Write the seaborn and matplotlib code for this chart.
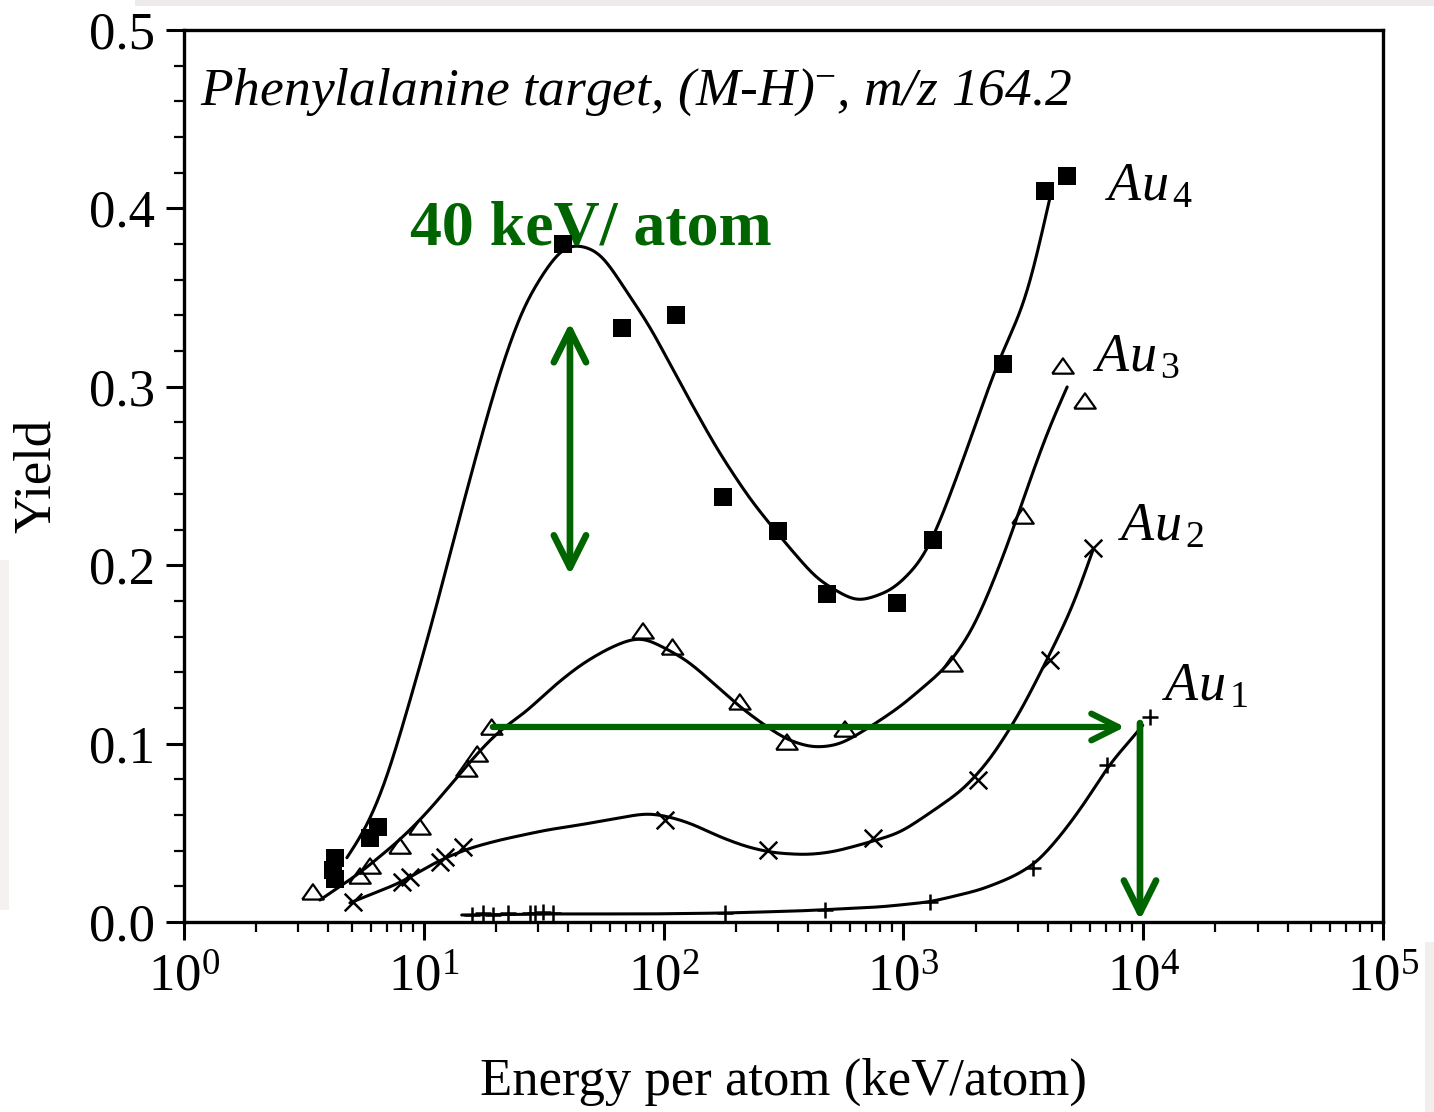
import numpy as np
import matplotlib
matplotlib.use("Agg")
import matplotlib.pyplot as plt
import seaborn as sns
from matplotlib.ticker import LogLocator, LogFormatterSciNotation, MultipleLocator, NullFormatter
from matplotlib.patches import Rectangle

# ---------------- measured yields (keV/atom, yield) ----------------
au4_energy = [4.26, 4.18, 4.26, 5.97, 6.44, 38.1, 67.1, 113, 177, 300, 480, 940, 1329, 2602, 3895, 4811]
au4_yield = [0.036, 0.029, 0.024, 0.047, 0.053, 0.380, 0.333, 0.340, 0.238, 0.219, 0.184, 0.179, 0.214, 0.313, 0.410, 0.418]

au3_energy = [3.45, 5.42, 5.97, 7.96, 9.64, 15.1, 16.7, 19.2, 82.1, 109, 208, 327, 571, 1595, 3153, 4630, 5720]
au3_yield = [0.0163, 0.0252, 0.0308, 0.0420, 0.0527, 0.0852, 0.0936, 0.1087, 0.1626, 0.1536, 0.1228, 0.1003,
             0.1076, 0.1441, 0.2270, 0.3111, 0.2915]

au2_energy = [5.07, 8.11, 8.76, 11.7, 12.3, 14.6, 101, 273, 747, 2047, 4087, 6176]
au2_yield = [0.0112, 0.0224, 0.0252, 0.0336, 0.0364, 0.0420, 0.0572, 0.0404, 0.0471, 0.0796, 0.1469, 0.2096]

au1_energy = [15.9, 17.7, 19.4, 22.4, 27.7, 29.1, 31.4, 34.6, 180, 471, 1291, 3472, 7063, 10676]
au1_yield = [0.004, 0.005, 0.004, 0.005, 0.005, 0.005, 0.0055, 0.005, 0.005, 0.0067, 0.0112, 0.0303, 0.088, 0.1149]

# ---------------- guide-to-the-eye fit curves (knots) ----------------
au4_fit_energy = [4.78, 5.80, 7.02, 8.76, 10.9, 13.8, 17.2, 20.8, 25.9, 32.6, 38.1, 43.5, 54.3, 61.0, 70.4, 87.8,
                  114, 167, 229, 315, 436, 640, 905, 1207, 1421, 1842, 2456, 3277, 4087]
au4_fit_yield = [0.036, 0.053, 0.080, 0.124, 0.169, 0.222, 0.270, 0.309, 0.345, 0.367, 0.379, 0.380, 0.376, 0.366,
                 0.353, 0.334, 0.305, 0.265, 0.237, 0.214, 0.192, 0.179, 0.186, 0.203, 0.224, 0.265, 0.313, 0.349, 0.406]

au3_fit_energy = [3.69, 5.42, 7.96, 10.3, 13.8, 17.2, 20.8, 26.9, 33.6, 44.8, 58.1, 72.4, 82.1, 99.4, 125, 161, 208,
                  270, 327, 420, 544, 726, 968, 1520, 1951, 2297, 2704, 3373, 4009, 4811]
au3_fit_yield = [0.0123, 0.0275, 0.0460, 0.0611, 0.0813, 0.0964, 0.1076, 0.1180, 0.1305, 0.1440, 0.1530, 0.1585,
                 0.1598, 0.1541, 0.1469, 0.1340, 0.1205, 0.1093, 0.1020, 0.0975, 0.0992, 0.1093, 0.1205, 0.1429,
                 0.1637, 0.1861, 0.2102, 0.2478, 0.2758, 0.2999]

au2_fit_energy = [4.92, 7.96, 11.7, 15.6, 20.8, 32.6, 44.8, 61.5, 85.3, 103, 129, 172, 223, 286, 396, 509, 705, 968,
                  1291, 1772, 2297, 3063, 3970, 5097, 6176]
au2_fit_yield = [0.0107, 0.0219, 0.0348, 0.0415, 0.0460, 0.0516, 0.0544, 0.0577, 0.0611, 0.0594, 0.0555, 0.0476,
                 0.0420, 0.0387, 0.0376, 0.0392, 0.0443, 0.0499, 0.0611, 0.0740, 0.0908, 0.1172, 0.1469, 0.1766, 0.2085]

au1_fit_energy = [14.4, 33.6, 87.8, 180, 371, 799, 1291, 2086, 2864, 3607, 4630, 5830, 7269, 9421, 9982]
au1_fit_yield = [0.0039, 0.0045, 0.0045, 0.0050, 0.0062, 0.0084, 0.0112, 0.0179, 0.0252, 0.0331, 0.0499, 0.0684,
                 0.0891, 0.1059, 0.1104]

x_ticks = [1e0, 1e1, 1e2, 1e3, 1e4, 1e5]
y_ticks = [0.0, 0.1, 0.2, 0.3, 0.4, 0.5]

GREEN = "#006400"

# ---------------- style ----------------
sns.set_theme(style="ticks")
plt.rcParams["font.family"] = ["Liberation Serif", "DejaVu Serif"]
plt.rcParams["mathtext.fontset"] = "custom"
plt.rcParams["mathtext.rm"] = "Liberation Serif"
plt.rcParams["mathtext.it"] = "Liberation Serif:italic"
plt.rcParams["mathtext.bf"] = "Liberation Serif:bold"
plt.rcParams["axes.unicode_minus"] = False


def smooth_curve(energy, yld, sigma=0.04, step=0.002):
    """Smooth guide line through the knots, built in log-energy space."""
    lx = np.log10(energy)
    y = np.asarray(yld, dtype=float)
    grid = np.arange(lx[0], lx[-1] + step / 2, step)
    gy = np.interp(grid, lx, y)
    k = int(4 * sigma / step)
    kern = np.exp(-0.5 * (np.arange(-k, k + 1) * step / sigma) ** 2)
    kern /= kern.sum()
    left = 2 * gy[0] - gy[k:0:-1]
    right = 2 * gy[-1] - gy[-2:-k - 2:-1]
    sm = np.convolve(np.concatenate([left, gy, right]), kern, mode="valid")
    return 10 ** grid, sm


fig = plt.figure(figsize=(14.34, 11.12), dpi=100)
fig.patch.set_facecolor("white")

# faint grey margins along the page edges
for (x0, y0, w, h, c) in [(135 / 1434, 1 - 6 / 1112, 1, 6 / 1112, "#eeeaea"),
                          (0, 1 - 910 / 1112, 9 / 1434, 350 / 1112, "#f5f1f1"),
                          (1 - 9 / 1434, 0, 9 / 1434, 170 / 1112, "#f2eeee")]:
    fig.patches.append(Rectangle((x0, y0), w, h, transform=fig.transFigure, facecolor=c,
                                 edgecolor="none", zorder=0))

ax = fig.add_axes([0.1283, 0.1709, 0.8361, 0.8021])
ax.set_facecolor("white")
ax.set_xscale("log")

# fitted curves
for fe, fy in [(au4_fit_energy, au4_fit_yield), (au3_fit_energy, au3_fit_yield),
               (au2_fit_energy, au2_fit_yield), (au1_fit_energy, au1_fit_yield)]:
    cx, cy = smooth_curve(fe, fy)
    sns.lineplot(x=cx, y=cy, sort=False, estimator=None, color="black", linewidth=2.2, ax=ax, zorder=2)

# data points
tri = [(-1.0, -0.62), (1.0, -0.62), (0.0, 0.80), (-1.0, -0.62)]
sns.scatterplot(x=au4_energy, y=au4_yield, marker="s", s=160, color="black", edgecolor="black",
                linewidth=0, ax=ax, zorder=4)
sns.scatterplot(x=au3_energy, y=au3_yield, marker=tri, s=240, facecolor="none", edgecolor="black",
                linewidth=1.6, ax=ax, zorder=4)
sns.scatterplot(x=au2_energy, y=au2_yield, marker="x", s=160, color="black", linewidth=1.8, ax=ax, zorder=4)
sns.scatterplot(x=au1_energy, y=au1_yield, marker="+", s=140, color="black", linewidth=1.8, ax=ax, zorder=4)

# axes
ax.set_xlim(1, 1e5)
ax.set_ylim(0, 0.5)
ax.set_xticks(x_ticks)
ax.xaxis.set_major_formatter(LogFormatterSciNotation())
ax.xaxis.set_minor_locator(LogLocator(base=10, subs=np.arange(2, 10)))
ax.xaxis.set_minor_formatter(NullFormatter())
ax.set_yticks(y_ticks)
ax.set_yticklabels([f"{v:.1f}" for v in y_ticks])
ax.yaxis.set_minor_locator(MultipleLocator(0.02))

for s in ax.spines.values():
    s.set_linewidth(2.4)
    s.set_color("black")
ax.tick_params(which="major", direction="out", length=13, width=2.2, labelsize=38, colors="black")
ax.tick_params(which="minor", direction="out", length=7, width=1.6, colors="black")
ax.tick_params(axis="y", which="major", pad=8)
ax.tick_params(axis="x", which="major", pad=10)

ax.set_xlabel("Energy per atom (keV/atom)", fontsize=38, color="black")
ax.set_ylabel("Yield", fontsize=38, color="black")
ax.xaxis.set_label_coords(0.5, -0.152)
ax.yaxis.set_label_coords(-0.103, 0.5)

# panel title inside the frame
ax.text(0.0133, 0.916, r"Phenylalanine target, (M-H)$^{\mathrm{-}}$, m/z 164.2", transform=ax.transAxes,
        fontsize=38.5, style="italic", ha="left", va="baseline", color="black")

# series labels
for lbl, lx, ly in [(r"$Au_{\,\mathit{4}}$", 6930, 0.4047), (r"$Au_{\,\mathit{3}}$", 6176, 0.3094),
                    (r"$Au_{\,\mathit{2}}$", 7852, 0.2141), (r"$Au_{\,\mathit{1}}$", 11980, 0.1244)]:
    ax.text(lx, ly, lbl, fontsize=39, ha="left", va="baseline", color="black")

# annotation: energy of maximum yield
ax.text(10 ** ((410 - 184) / 239.8), 0.380, "40 keV/ atom", fontsize=46, fontweight="bold",
        color=GREEN, ha="left", va="baseline", zorder=3)
ax.annotate("", xy=(40.7, 0.336), xytext=(40.7, 0.1945),
            arrowprops=dict(arrowstyle="<->", color=GREEN, lw=4.8, mutation_scale=58,
                            shrinkA=0, shrinkB=0), zorder=5)
ax.annotate("", xy=(8400, 0.1093), xytext=(19.4, 0.1093),
            arrowprops=dict(arrowstyle="->", color=GREEN, lw=4.5, mutation_scale=48,
                            shrinkA=0, shrinkB=0), zorder=5)
ax.annotate("", xy=(9700, 0.001), xytext=(9700, 0.1115),
            arrowprops=dict(arrowstyle="->", color=GREEN, lw=4.8, mutation_scale=58,
                            shrinkA=0, shrinkB=0), zorder=5)

fig.savefig("out.png", dpi=100, facecolor="white")
